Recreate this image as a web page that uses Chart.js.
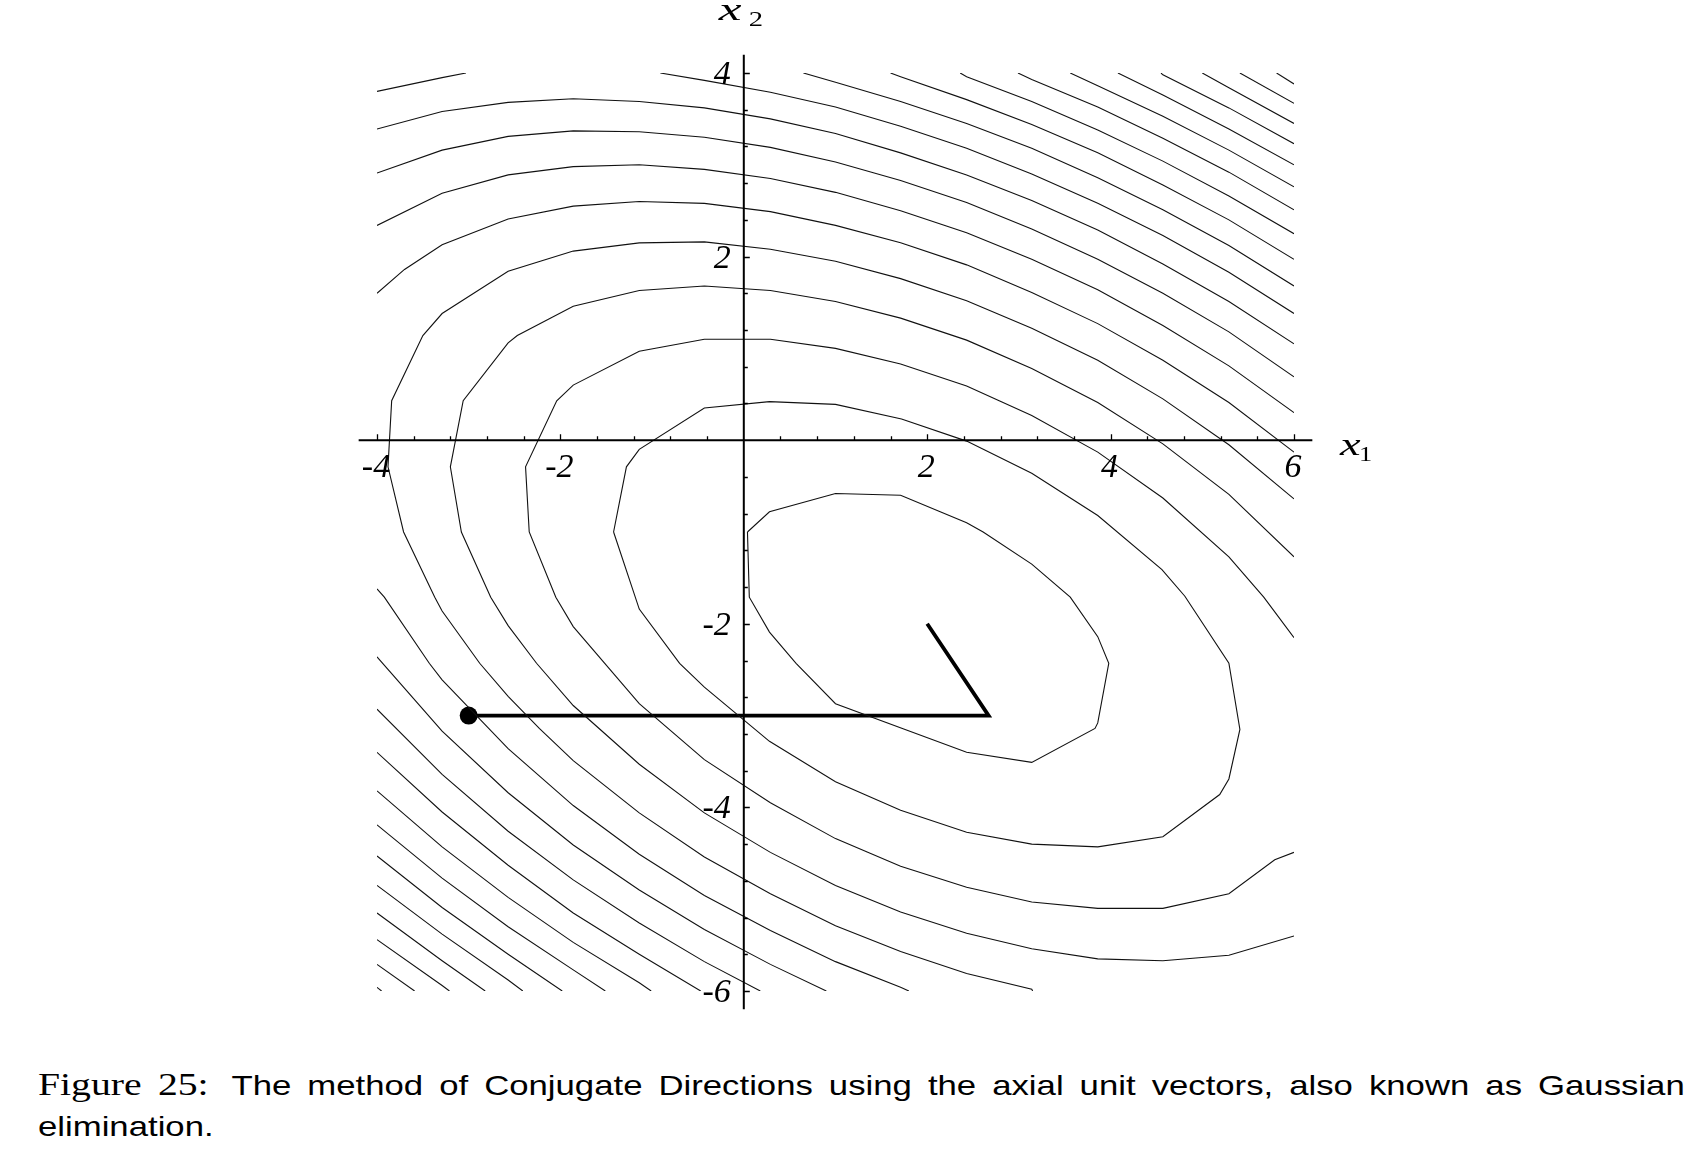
<!DOCTYPE html>
<html>
<head>
<meta charset="utf-8">
<title>Conjugate Directions</title>
<script src="https://cdn.jsdelivr.net/npm/chart.js@4.4.1/dist/chart.umd.min.js"></script>
<style>
    body {
        margin: 0;
        background: #fff;
        width: 1708px;
        height: 1170px;
        overflow: hidden;
        position: relative;
    }
    #chart {
        position: absolute;
        left: 0;
        top: 0;
    }
    .caption {
        position: absolute;
        left: 38px;
        top: 1064px;
        width: 1328px;
        transform: scaleX(1.24);
        transform-origin: 0 0;
        font-family: "Liberation Sans", Arial, sans-serif;
        font-size: 28px;
        line-height: 41px;
        color: #000;
    }
    .caption .l1 {
        text-align: justify;
        text-align-last: justify;
    }
    .caption .fig {
        font-family: "Liberation Serif", "Times New Roman", serif;
        font-size: 32px;
        margin-right: 6px;
    }
</style>
</head>
<body>
<canvas id="chart" width="1708" height="1050" style="width:1708px;height:1050px"></canvas>
<div class="caption">
    <div class="l1"><span class="fig">Figure 25:</span> The method of Conjugate Directions using the axial unit vectors, also known as Gaussian</div>
    <div>elimination.</div>
</div>
<script>
// tick labels
const xTicks = [-4, -2, 2, 4, 6];
const yTicks = [4, 2, -2, -4, -6];

// contour lines, [x1, x2] points
const c1 = [[0.04,-1.00],[0.28,-0.78],[1.00,-0.58],[1.71,-0.60],[2.43,-0.90],[2.61,-1.00],[3.14,-1.35],[3.56,-1.71],[3.86,-2.14],[3.98,-2.43],[3.86,-3.08],[3.83,-3.14],[3.14,-3.51],[2.43,-3.40],[1.00,-2.87],[0.57,-2.43],[0.28,-2.09],[0.06,-1.71],[0.04,-1.00]];
const c2 = [[-1.42,-1.00],[-1.28,-0.29],[-1.14,-0.10],[-0.43,0.35],[0.28,0.42],[1.00,0.39],[1.72,0.23],[2.43,-0.01],[3.14,-0.36],[3.86,-0.82],[4.56,-1.41],[4.81,-1.70],[5.29,-2.43],[5.41,-3.15],[5.29,-3.69],[5.19,-3.86],[4.57,-4.32],[3.86,-4.43],[3.14,-4.40],[2.43,-4.27],[1.71,-4.03],[1.00,-3.72],[0.28,-3.28],[-0.43,-2.69],[-0.70,-2.43],[-1.14,-1.84],[-1.42,-1.00]];
const c3 = [[6,-2.15],[5.67,-1.71],[5.29,-1.27],[4.57,-0.63],[3.86,-0.13],[3.14,0.27],[2.43,0.59],[1.71,0.83],[1.00,1.00],[0.29,1.10],[-0.43,1.10],[-1.14,0.97],[-1.86,0.60],[-2.04,0.43],[-2.38,-0.29],[-2.34,-1.00],[-2.05,-1.71],[-1.86,-2.03],[-1.14,-2.87],[-0.43,-3.48],[0.29,-3.95],[1.00,-4.34],[1.71,-4.64],[2.43,-4.87],[3.14,-5.03],[3.86,-5.10],[4.57,-5.10],[5.29,-4.94],[5.79,-4.57],[6,-4.49]];
const c4 = [[6,-1.27],[5.29,-0.59],[4.57,-0.04],[3.86,0.41],[3.14,0.78],[2.43,1.09],[1.71,1.33],[1.00,1.51],[0.29,1.63],[-0.43,1.68],[-1.14,1.63],[-1.86,1.46],[-2.47,1.14],[-2.57,1.06],[-3.06,0.43],[-3.20,-0.29],[-3.08,-1.00],[-2.76,-1.71],[-2.57,-2.02],[-2.26,-2.43],[-1.86,-2.89],[-1.14,-3.53],[-0.43,-4.06],[0.29,-4.49],[1.00,-4.85],[1.71,-5.14],[2.43,-5.37],[3.14,-5.54],[3.86,-5.65],[4.57,-5.67],[5.29,-5.61],[6,-5.40]];
const c5 = [[6,-0.64],[5.29,-0.05],[4.57,0.45],[3.86,0.87],[3.14,1.22],[2.43,1.52],[1.71,1.76],[1.00,1.95],[0.29,2.08],[-0.43,2.16],[-1.14,2.15],[-1.86,2.06],[-2.57,1.84],[-3.29,1.38],[-3.50,1.14],[-3.84,0.43],[-3.88,-0.29],[-3.71,-1.00],[-3.37,-1.71],[-3.29,-1.86],[-2.88,-2.43],[-2.57,-2.79],[-2.23,-3.14],[-1.86,-3.49],[-1.14,-4.06],[-0.43,-4.54],[0.29,-4.94],[1.00,-5.29],[1.71,-5.57],[2.43,-5.81],[3.14,-5.98],[3.15,-6]];
const c6a = [[6,-0.13],[5.29,0.41],[4.57,0.87],[3.86,1.27],[3.14,1.61],[2.43,1.91],[1.71,2.15],[1.00,2.34],[0.29,2.49],[-0.43,2.58],[-1.14,2.60],[-1.86,2.55],[-2.57,2.41],[-3.29,2.13],[-3.70,1.86],[-4,1.60]];
const c6b = [[-4,-1.62],[-3.92,-1.71],[-3.43,-2.43],[-3.29,-2.61],[-2.57,-3.36],[-1.86,-3.98],[-1.14,-4.51],[-0.43,-4.96],[0.29,-5.34],[1.00,-5.68],[1.71,-5.96],[1.80,-6]];
const c7a = [[6,0.30],[5.29,0.81],[4.57,1.25],[3.86,1.64],[3.14,1.97],[2.43,2.26],[1.71,2.50],[1.00,2.70],[0.29,2.85],[-0.43,2.95],[-1.14,3.00],[-1.86,2.98],[-2.57,2.89],[-3.29,2.69],[-4,2.34]];
const c7b = [[-4,-2.36],[-3.29,-3.17],[-2.57,-3.84],[-1.86,-4.41],[-1.14,-4.90],[-0.43,-5.33],[0.29,-5.71],[0.90,-6]];
const c8a = [[6,0.69],[5.29,1.18],[4.57,1.60],[3.86,1.97],[3.14,2.30],[2.43,2.59],[1.71,2.83],[1.00,3.03],[0.29,3.19],[-0.43,3.30],[-1.14,3.36],[-1.86,3.37],[-2.57,3.31],[-3.29,3.16],[-4,2.91]];
const c8b = [[-4,-2.93],[-3.29,-3.64],[-2.57,-4.26],[-1.86,-4.79],[-1.14,-5.26],[-0.43,-5.68],[0.18,-6]];
const c9a = [[6,1.05],[5.29,1.51],[4.57,1.92],[3.86,2.29],[3.14,2.61],[2.43,2.89],[1.71,3.13],[1.00,3.34],[0.29,3.50],[-0.43,3.62],[-1.14,3.69],[-1.86,3.72],[-2.57,3.68],[-3.29,3.58],[-4,3.39]];
const c9b = [[-4,-3.40],[-3.29,-4.05],[-2.57,-4.63],[-1.86,-5.15],[-1.14,-5.60],[-0.47,-6]];
const c10a = [[6,1.38],[5.29,1.83],[4.57,2.23],[3.86,2.58],[3.14,2.90],[2.43,3.18],[1.71,3.42],[1.00,3.63],[0.29,3.79],[-0.43,3.92],[-0.91,4]];
const c10b = [[-3.03,4],[-3.29,3.95],[-4,3.80]];
const c10c = [[-4,-3.82],[-3.29,-4.43],[-2.57,-4.98],[-1.86,-5.47],[-1.14,-5.91],[-1.01,-6]];
const c11a = [[0.65,4],[1.00,3.90],[1.71,3.69],[2.43,3.45],[3.14,3.18],[3.86,2.86],[4.57,2.51],[5.29,2.12],[6,1.68]];
const c11b = [[-4,-4.19],[-3.29,-4.77],[-2.57,-5.30],[-1.86,-5.77],[-1.51,-6]];
const c12a = [[1.60,4],[1.71,3.96],[2.43,3.71],[3.14,3.44],[3.86,3.13],[4.57,2.78],[5.29,2.40],[6,1.97]];
const c12b = [[-4,-4.53],[-3.29,-5.09],[-2.57,-5.60],[-1.98,-6]];
const c13a = [[2.36,4],[2.43,3.96],[3.14,3.69],[3.86,3.38],[4.57,3.04],[5.29,2.66],[6,2.25]];
const c13b = [[-4,-4.85],[-3.29,-5.38],[-2.57,-5.88],[-2.41,-6]];
const c14a = [[2.99,4],[3.14,3.93],[3.86,3.63],[4.57,3.29],[5.29,2.92],[6,2.51]];
const c14b = [[-4,-5.15],[-3.29,-5.67],[-2.82,-6]];
const c15a = [[3.56,4],[3.86,3.86],[4.57,3.53],[5.29,3.16],[6,2.76]];
const c15b = [[-4,-5.44],[-3.29,-5.94],[-3.21,-6]];
const c16a = [[4.08,4],[4.57,3.76],[5.29,3.39],[6,3.00]];
const c16b = [[-4,-5.71],[-3.59,-6]];
const c17a = [[4.55,4],[4.57,3.98],[5.29,3.62],[6,3.23]];
const c17b = [[-4,-5.96],[-3.95,-6]];
const c18 = [[5.00,4],[5.29,3.84],[6,3.45]];
const c19 = [[5.41,4],[6,3.67]];
const c20 = [[5.81,4],[6,3.88]];

// search path: start point, line search along x1, then along x2
const pathX = [-3, 2.67, 2];
const pathY = [-3, -3, -2];

const contours = [c1, c2, c3, c4, c5, c6a, c6b, c7a, c7b, c8a, c8b, c9a, c9b,
    c10a, c10b, c10c, c11a, c11b, c12a, c12b, c13a, c13b, c14a, c14b,
    c15a, c15b, c16a, c16b, c17a, c17b, c18, c19, c20];

var datasets = contours.map(function (pts) {
    return {
        data: pts.map(function (p) { return { x: p[0], y: p[1] }; }),
        showLine: true,
        borderColor: "#111",
        borderWidth: 1.1,
        pointRadius: 0,
        fill: false,
        tension: 0,
    };
});

datasets.push({
    data: pathX.map(function (x, i) { return { x: x, y: pathY[i] }; }),
    showLine: true,
    borderColor: "#000",
    borderWidth: 3.8,
    pointRadius: [9, 0, 0],
    pointBackgroundColor: "#000",
    pointBorderWidth: 0,
    fill: false,
    tension: 0,
});

function isLabelled(list, v) {
    return list.some(function (t) { return Math.abs(t - v) < 1e-6; });
}

// stretched glyph, the figure's math font is wider than Liberation
function wideText(ctx, text, x, y, sx) {
    ctx.save();
    ctx.translate(x, y);
    ctx.scale(sx, 1);
    ctx.fillText(text, 0, 0);
    ctx.restore();
}

// axes through the origin, drawn with the chart's own scales
const axesPlugin = {
    id: "axes",
    afterDatasetsDraw: function (chart) {
        var ctx = chart.ctx;
        var xs = chart.scales.x;
        var ys = chart.scales.y;
        var x0 = xs.getPixelForValue(0);
        var y0 = ys.getPixelForValue(0);

        ctx.save();
        ctx.strokeStyle = "#000";
        ctx.lineWidth = 2;
        ctx.beginPath();
        ctx.moveTo(xs.getPixelForValue(-4.2), y0);
        ctx.lineTo(xs.getPixelForValue(6.2), y0);
        ctx.moveTo(x0, ys.getPixelForValue(4.2));
        ctx.lineTo(x0, ys.getPixelForValue(-6.2));
        ctx.stroke();

        // tick marks every 0.4, longer at labelled values
        ctx.lineWidth = 1.3;
        ctx.beginPath();
        for (var i = 0; i <= 25; i++) {
            var v = -4 + i * 0.4;
            if (Math.abs(v) < 1e-6) continue;
            var len = isLabelled(xTicks, v) ? 6 : 4;
            var px = Math.round(xs.getPixelForValue(v)) + 0.5;
            ctx.moveTo(px, y0);
            ctx.lineTo(px, y0 - len);
        }
        for (var j = 0; j <= 25; j++) {
            var w = -6 + j * 0.4;
            if (Math.abs(w) < 1e-6) continue;
            var len2 = isLabelled(yTicks, w) ? 6 : 4;
            var py = Math.round(ys.getPixelForValue(w)) + 0.5;
            ctx.moveTo(x0, py);
            ctx.lineTo(x0 + len2, py);
        }
        ctx.stroke();

        // tick labels
        ctx.fillStyle = "#000";
        ctx.font = 'italic 34px "Liberation Serif"';
        ctx.textAlign = "center";
        ctx.textBaseline = "alphabetic";
        xTicks.forEach(function (t) {
            ctx.fillText(String(t), xs.getPixelForValue(t) - 1, y0 + 37);
        });
        ctx.textAlign = "right";
        ctx.textBaseline = "middle";
        yTicks.forEach(function (t) {
            ctx.fillText(String(t), x0 - 13, ys.getPixelForValue(t) + 2);
        });

        // axis names x1, x2
        ctx.textAlign = "left";
        ctx.textBaseline = "alphabetic";
        ctx.font = 'italic 32px "Liberation Serif"';
        wideText(ctx, "x", x0 - 25, ys.getPixelForValue(4) - 53, 1.6);
        wideText(ctx, "x", xs.getPixelForValue(6) + 46, y0 + 15, 1.45);
        ctx.font = '22px "Liberation Serif"';
        wideText(ctx, "2", x0 + 5, ys.getPixelForValue(4) - 47, 1.3);
        wideText(ctx, "1", xs.getPixelForValue(6) + 65, y0 + 21, 1.2);
        ctx.restore();
    },
};

var ctx = document.getElementById("chart").getContext("2d");
var myChart = new Chart(ctx, {
    type: "scatter",
    data: { datasets: datasets },
    options: {
        responsive: false,
        animation: false,
        layout: {
            padding: { left: 377, top: 73, right: 414, bottom: 59 },
        },
        scales: {
            x: { type: "linear", min: -4, max: 6, display: false },
            y: { type: "linear", min: -6, max: 4, display: false },
        },
        plugins: {
            legend: { display: false },
            tooltip: { enabled: false },
        },
    },
    plugins: [axesPlugin],
});
</script>
</body>
</html>
